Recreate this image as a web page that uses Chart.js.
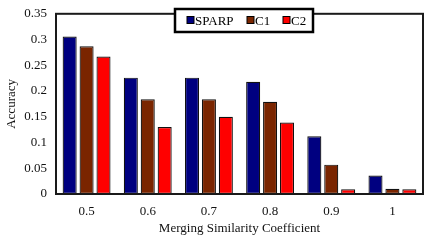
<!DOCTYPE html>
<html>
<head>
<meta charset="utf-8">
<script src="https://cdn.jsdelivr.net/npm/chart.js@4/dist/chart.umd.min.js"></script>
<style>
  html, body { margin: 0; padding: 0; background: #fff; }
  #wrap { width: 436px; height: 246px; }
</style>
</head>
<body>
<div id="wrap"><canvas id="chart" width="436" height="246"></canvas></div>
<script>
// Accuracy vs merging similarity coefficient
const coefficients = ['0.5', '0.6', '0.7', '0.8', '0.9', '1'];
const sparp = [0.306, 0.226, 0.226, 0.218, 0.112, 0.036];
const c1    = [0.287, 0.184, 0.184, 0.179, 0.057, 0.010];
const c2    = [0.267, 0.130, 0.150, 0.139, 0.009, 0.009];
const yTicks = [0, 0.05, 0.1, 0.15, 0.2, 0.25, 0.3, 0.35];

const SERIES_COLORS = ['#000080', '#7A2500', '#FF0000'];
const FONT = 'Liberation Serif, Times New Roman, serif';

// frame round the plot area + legend box in the top right
const framePlugin = {
  id: 'frame',
  afterDraw(chart) {
    const { ctx, chartArea: a } = chart;
    ctx.save();
    ctx.strokeStyle = '#1a1a1a';
    ctx.lineWidth = 2;
    ctx.strokeRect(a.left, a.top, a.right - a.left, a.bottom - a.top);

    // legend
    const lx = 175, ly = 9, lw = 138, lh = 23;
    const keyX = [187, 247, 283];
    ctx.fillStyle = '#fff';
    ctx.fillRect(lx, ly, lw, lh);
    ctx.lineWidth = 2.5;
    ctx.strokeStyle = '#000';
    ctx.strokeRect(lx, ly, lw, lh);
    ctx.font = '13px ' + FONT;
    ctx.textBaseline = 'middle';
    chart.data.datasets.forEach((ds, i) => {
      const x = keyX[i];
      ctx.fillStyle = ds.backgroundColor;
      ctx.fillRect(x, ly + lh / 2 - 4, 7, 7);
      ctx.lineWidth = 1;
      ctx.strokeStyle = '#000';
      ctx.strokeRect(x, ly + lh / 2 - 4, 7, 7);
      ctx.fillStyle = '#000';
      ctx.fillText(ds.label, x + 8, ly + lh / 2 + 1);
    });
    ctx.restore();
  },
};

const mk = (label, data, i) => ({
  label,
  data,
  backgroundColor: SERIES_COLORS[i],
  borderColor: '#111',
  borderWidth: 1.2,
  borderSkipped: false,
  categoryPercentage: 0.83,
  barPercentage: 0.83,
});

new Chart(document.getElementById('chart'), {
  type: 'bar',
  data: {
    labels: coefficients,
    datasets: [mk('SPARP', sparp, 0), mk('C1', c1, 1), mk('C2', c2, 2)],
  },
  plugins: [framePlugin],
  options: {
    responsive: false,
    animation: false,
    layout: { padding: { left: 0, top: 8, right: 13, bottom: 0 } },
    plugins: {
      legend: { display: false },
      tooltip: { enabled: false },
    },
    scales: {
      x: {
        grid: { display: false, drawTicks: false },
        border: { display: false },
        ticks: { color: '#111', font: { family: FONT, size: 13 }, padding: 10 },
        title: {
          display: true,
          text: 'Merging Similarity Coefficient',
          color: '#111',
          font: { family: FONT, size: 13 },
          padding: { top: 0, bottom: 10 },
        },
        afterFit: s => { s.height = 52; },
      },
      y: {
        min: 0,
        max: 0.35,
        afterBuildTicks: s => { s.ticks = yTicks.map(v => ({ value: v })); },
        grid: { display: false, drawOnChartArea: false, drawTicks: true, tickLength: 3, color: '#222' },
        border: { display: false },
        ticks: {
          color: '#111',
          font: { family: FONT, size: 13 },
          padding: 6,
          callback: v => String(+v.toFixed(2)),
        },
        title: {
          display: true,
          text: 'Accuracy',
          color: '#111',
          font: { family: FONT, size: 13 },
          padding: { bottom: 0 },
        },
        afterFit: s => { s.width = 56; },
      },
    },
  },
});
</script>
</body>
</html>
